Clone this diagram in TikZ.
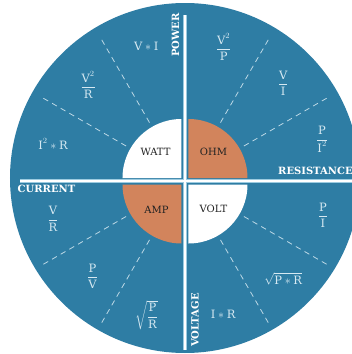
\documentclass[tikz,border=0pt]{standalone}
\usepackage{amsmath}
\usepackage{fontspec}
\setmainfont{DejaVu Serif}
\definecolor{dial}{HTML}{2E7DA4}
\definecolor{copper}{HTML}{D2845C}
\definecolor{chalk}{HTML}{D6E9F2}
\definecolor{halo}{HTML}{9CCBE0}
\definecolor{ink}{HTML}{222222}

\begin{document}
\begin{tikzpicture}[x=1pt, y=1pt,
    unit/.style={font=\fontsize{10}{12}\selectfont, text=ink},
    axis/.style={font=\fontsize{10}{12}\selectfont\bfseries, text=white, inner sep=0pt},
    formula/.style={font=\fontsize{11.5}{13}\selectfont, text=chalk},
    divider/.style={chalk!85!dial, line width=0.8pt, dash pattern=on 5.5pt off 4.5pt}]

  \useasboundingbox (-185,-173) rectangle (167,181);

  % dial and quadrant corners
  \fill[dial] (0,3) circle (175);
  \coordinate (tl) at (-3.5,3);
  \coordinate (tr) at (3.5,3);
  \coordinate (bl) at (-3.5,-3.5);
  \coordinate (br) at (3.5,-3.5);

  % inner quarter disks
  \fill[white]  (tl) -- ++(-59,0) arc (180:90:59) -- cycle;
  \fill[copper] (tr) -- ++(59,0) arc (0:90:59) -- cycle;
  \fill[copper] (bl) -- ++(-59,0) arc (180:270:59) -- cycle;
  \fill[white]  (br) -- ++(59,0) arc (0:-90:59) -- cycle;

  \node[unit] (watt) at ([shift={(-26,26)}]tl) {WATT};
  \node[unit] (ohm)  at ([shift={(25,26)}]tr)  {OHM};
  \node[unit] (amp)  at ([shift={(-25,-25)}]bl) {AMP};
  \node[unit] (volt) at ([shift={(25,-24)}]br) {VOLT};

  % axes
  \coordinate (top) at (0,166);
  \coordinate (bottom) at (0,-169);
  \coordinate (left) at (-165,0);
  \coordinate (right) at (170,0);
  \draw[halo, line width=3.6pt] (top) -- (bottom) (left) -- (right);
  \draw[white, line width=1.6pt] (top) -- (bottom) (left) -- (right);

  \node[axis, rotate=90] (power)   at (-9.5,146)   {POWER};
  \node[axis, rotate=90] (voltage) at (10,-139)    {VOLTAGE};
  \node[axis]            (current) at (-138.5,-7.5) {CURRENT};
  \node[axis, anchor=west] (resistance) at (93,10) {RESISTANCE};

  % sector dividers
  \foreach \c/\a in {tl/120, tl/150, tr/30, tr/60, bl/210, bl/240, br/300, br/330}
    \draw[divider] ([shift={(\a:64)}]\c) -- ([shift={(\a:163)}]\c);

  % formulas
  \node[formula] (vi)   at ([shift={(105:136)}]tl) {$\mathrm{V} * \mathrm{I}$};
  \node[formula] (vvr)  at ([shift={(135:132)}]tl) {$\dfrac{\mathrm{V}^2}{\mathrm{R}}$};
  \node[formula] (iir)  at ([shift={(165:133)}]tl) {$\mathrm{I}^2 * \mathrm{R}$};
  \node[formula] (vvp)  at ([shift={(75:136)}]tr)  {$\dfrac{\mathrm{V}^2}{\mathrm{P}}$};
  \node[formula] (vdi)  at ([shift={(45:134)}]tr)  {$\dfrac{\mathrm{V}}{\mathrm{I}}$};
  \node[formula] (pii)  at ([shift={(16:139)}]tr)  {$\dfrac{\mathrm{P}}{\mathrm{I}^2}$};
  \node[formula] (vdr)  at ([shift={(195:133)}]bl) {$\dfrac{\mathrm{V}}{\mathrm{R}}$};
  \node[formula] (pdv)  at ([shift={(226:128)}]bl) {$\dfrac{\mathrm{P}}{\mathrm{V}}$};
  \node[formula] (spr)  at ([shift={(255:135)}]bl) {$\sqrt{\dfrac{\mathrm{P}}{\mathrm{R}}}$};
  \node[formula] (pdi)  at ([shift={(347:138)}]br) {$\dfrac{\mathrm{P}}{\mathrm{I}}$};
  \node[formula] (sptr) at ([shift={(315:134)}]br) {$\sqrt{\mathrm{P} * \mathrm{R}}$};
  \node[formula] (ir)   at ([shift={(285:134)}]br) {$\mathrm{I} * \mathrm{R}$};
\end{tikzpicture}
\end{document}
